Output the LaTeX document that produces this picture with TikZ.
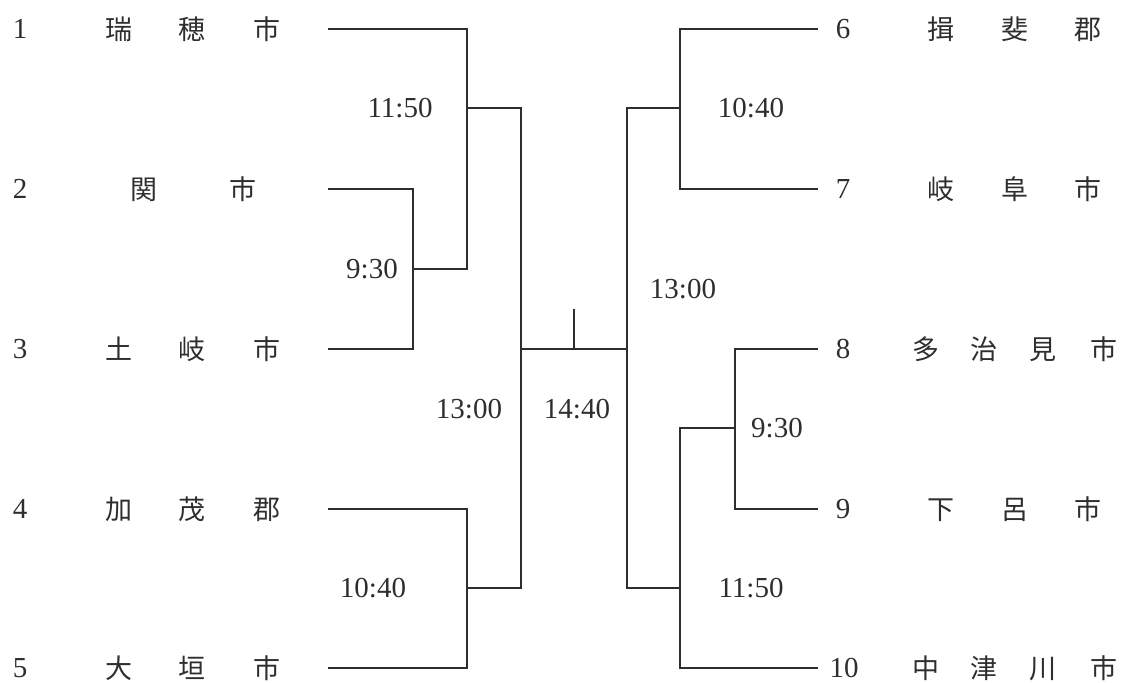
\documentclass[tikz,border=0pt]{standalone}
\usepackage{fontspec}
\setmainfont{Liberation Serif}
\newfontfamily\jp{Noto Sans CJK JP}
\definecolor{ink}{HTML}{2E2E2E}
\begin{document}
\begin{tikzpicture}[x=1pt,y=-1pt,
  bline/.style={draw=ink, line width=1.7pt},
  num/.style={text=ink, font=\fontsize{29}{29}\selectfont, inner sep=0pt, anchor=center},
  team/.style={text=ink, font=\jp\fontsize{27}{27}\selectfont, inner sep=0pt, anchor=center},
  tlabel/.style={text=ink, font=\fontsize{29}{29}\selectfont, inner sep=0pt, anchor=center}]
\useasboundingbox (0,0) rectangle (1123,682);
% left numbers and teams
\node[num] (n1) at (20,29) {1};
\node[num] (n2) at (20,189) {2};
\node[num] (n3) at (20,349) {3};
\node[num] (n4) at (20,509) {4};
\node[num] (n5) at (20,668) {5};
\node[team] (t1) at (193,29) {瑞\hspace{47pt}穂\hspace{48pt}市};
\node[team] (t2) at (193.5,189) {関\hspace{72pt}市};
\node[team] (t3) at (193,349) {土\hspace{47pt}岐\hspace{48pt}市};
\node[team] (t4) at (193,509) {加\hspace{47pt}茂\hspace{48pt}郡};
\node[team] (t5) at (193,668) {大\hspace{47pt}垣\hspace{48pt}市};
% right numbers and teams
\node[num] (n6) at (843,29) {6};
\node[num] (n7) at (843,189) {7};
\node[num] (n8) at (843,349) {8};
\node[num] (n9) at (843,509) {9};
\node[num] (n10) at (844,668) {10};
\node[team] (t6) at (1014.5,29) {揖\hspace{47pt}斐\hspace{46pt}郡};
\node[team] (t7) at (1014.5,189) {岐\hspace{47pt}阜\hspace{46pt}市};
\node[team] (t8) at (1015,349) {多\hspace{31pt}治\hspace{32pt}見\hspace{34pt}市};
\node[team] (t9) at (1014.5,509) {下\hspace{47pt}呂\hspace{46pt}市};
\node[team] (t10) at (1015,668) {中\hspace{31pt}津\hspace{32pt}川\hspace{34pt}市};
% coordinates
\coordinate (s1) at (328,29);
\coordinate (s2) at (328,189);
\coordinate (s3) at (328,349);
\coordinate (s4) at (328,509);
\coordinate (s5) at (328,668);
\coordinate (m23) at (413,269);
\coordinate (q1) at (467,108);
\coordinate (q45) at (467,588);
\coordinate (sf) at (521,349);
\coordinate (tf) at (627,349);
\coordinate (c) at (574,349);
\coordinate (ctop) at (574,309);
\coordinate (r6) at (818,29);
\coordinate (r7) at (818,189);
\coordinate (r8) at (818,349);
\coordinate (r9) at (818,509);
\coordinate (r10) at (818,668);
\coordinate (p67) at (680,108);
\coordinate (p89) at (735,428);
\coordinate (p10) at (680,588);
% bracket lines left
\draw[bline] (s2) -| (m23) |- (s3);
\draw[bline] (s1) -| (q1) |- (m23);
\draw[bline] (s4) -| (q45) |- (s5);
\draw[bline] (q1) -| (sf) |- (q45);
% center
\draw[bline] (sf) -- (tf);
\draw[bline] (c) -- (ctop);
% right
\draw[bline] (r6) -| (p67) |- (r7);
\draw[bline] (r8) -| (p89) |- (r9);
\draw[bline] (p89) -| (p10) |- (r10);
\draw[bline] (p67) -| (tf) |- (p10);
% time labels
\node[tlabel] (l1150a) at (400,108) {11:50};
\node[tlabel] (l930a) at (372,269) {9:30};
\node[tlabel] (l1040a) at (373,588) {10:40};
\node[tlabel] (l1300a) at (469,409) {13:00};
\node[tlabel] (l1440) at (577,409) {14:40};
\node[tlabel] (l1040b) at (751,108) {10:40};
\node[tlabel] (l1300b) at (683,289) {13:00};
\node[tlabel] (l930b) at (777,428) {9:30};
\node[tlabel] (l1150b) at (751,588) {11:50};
\end{tikzpicture}
\end{document}
